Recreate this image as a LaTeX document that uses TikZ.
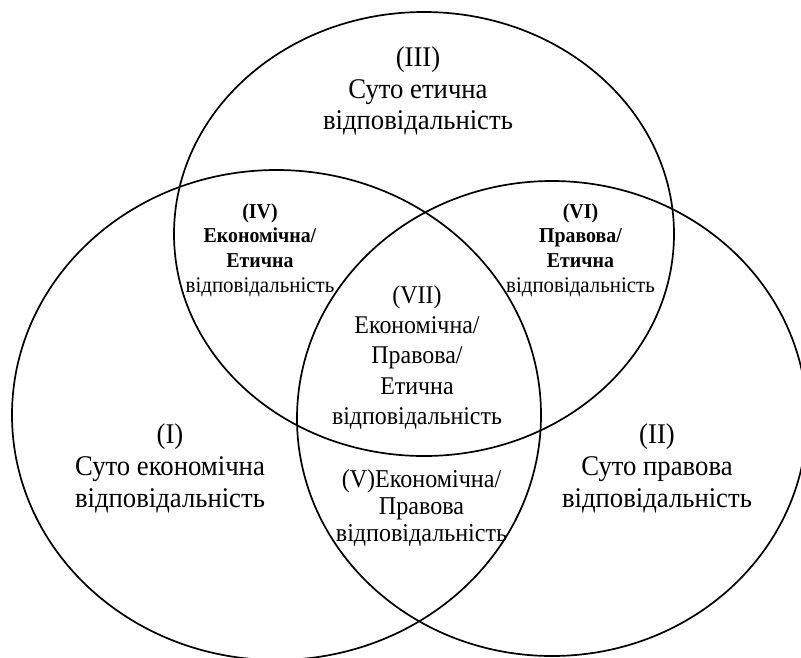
\documentclass[tikz,border=0pt]{standalone}
\usepackage{fontspec}
\setmainfont{Liberation Serif}[FakeStretch=0.937]
\begin{document}
\begin{tikzpicture}[x=1pt,y=-1pt,
  ring/.style={line width=1.7pt,black},
  outertxt/.style={align=center,inner sep=0pt,font=\fontsize{28.5}{31.7}\selectfont},
  coretxt/.style={align=center,inner sep=0pt,font=\fontsize{25.5}{30.4}\selectfont},
  midtxt/.style={align=center,inner sep=0pt,font=\fontsize{25.7}{27.2}\selectfont},
  smalltxt/.style={align=center,inner sep=0pt,font=\fontsize{21.2}{24.6}\selectfont\bfseries},
  plainsmall/.style={font=\mdseries\fontsize{22.3}{24.6}\selectfont}]
\useasboundingbox (0,0) rectangle (801,657);
\begin{scope}
\clip (0,0) rectangle (801,657);
\draw[ring] (424,234) ellipse [x radius=250pt, y radius=222pt];
\draw[ring] (276.5,415) ellipse [x radius=264.5pt, y radius=245pt];
\draw[ring] (552,418.5) ellipse [x radius=255pt, y radius=237.5pt];
\end{scope}
\node[outertxt] (III) at (418,91) {(III)\\Суто етична\\відповідальність};
\node[smalltxt] (IV) at (260,250) {(IV)\\Економічна/\\Етична\\{\mdseries\fontsize{22.3}{24.6}\selectfont відповідальність}};
\node[smalltxt] (VI) at (580.5,250) {(VI)\\Правова/\\Етична\\{\mdseries\fontsize{22.3}{24.6}\selectfont відповідальність}};
\node[coretxt] (VII) at (417,357.5) {(VII)\\Економічна/\\Правова/\\Етична\\відповідальність};
\node[outertxt] (I) at (170,468.5) {(I)\\Суто економічна\\відповідальність};
\node[outertxt] (II) at (657,468.5) {(II)\\Суто правова\\відповідальність};
\node[midtxt] (V) at (421.5,508) {(V)Економічна/\\Правова\\відповідальність};
\end{tikzpicture}
\end{document}
